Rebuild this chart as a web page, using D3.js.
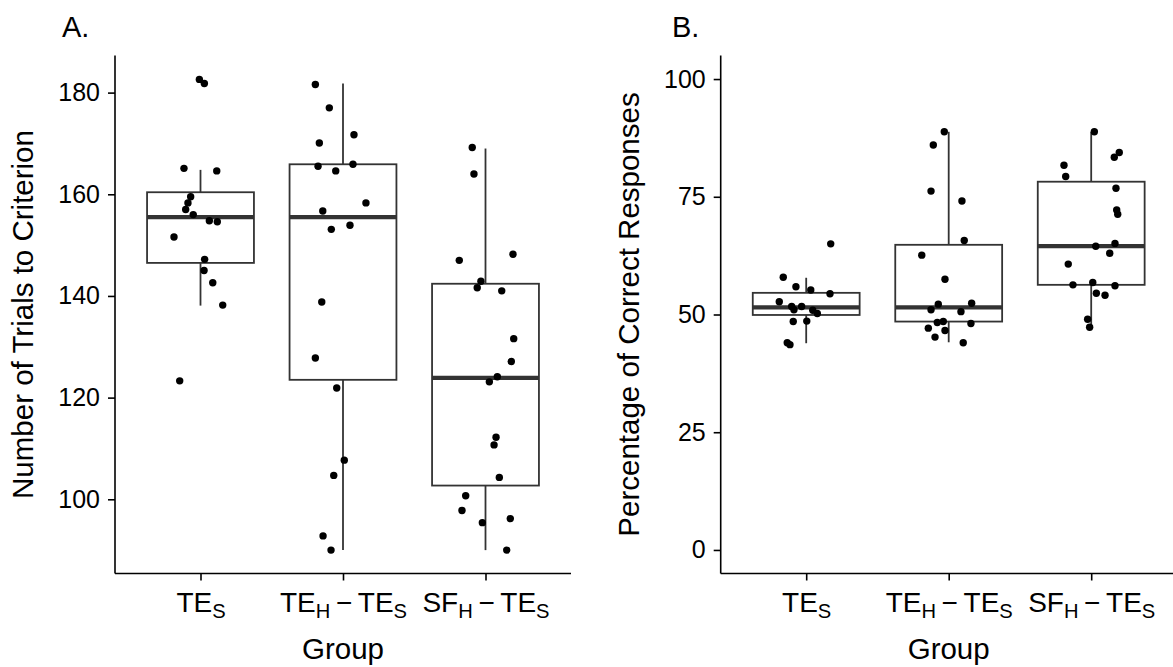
<!DOCTYPE html>
<html>
<head>
<meta charset="utf-8">
<script src="https://cdn.jsdelivr.net/npm/d3@7"></script>
<style>
  html, body { margin: 0; padding: 0; background: #fff; }
  svg { display: block; }
  text { font-family: "Liberation Sans", Arial, Helvetica, sans-serif; fill: #000; }
</style>
</head>
<body>
<svg id="chart" width="1173" height="667"></svg>
<script>
// ---------------- DATA ----------------
const groups = ["TES", "TEH-TES", "SFH-TES"];
// label parts: [main, subscript] pieces joined by a minus sign
const groupLabels = [
  [["TE", "S"]],
  [["TE", "H"], ["TE", "S"]],
  [["SF", "H"], ["TE", "S"]]
];

const ticksA = [100, 120, 140, 160, 180];
const ticksB = [0, 25, 50, 75, 100];

// Panel A: number of trials to criterion. Each point: [jitter (fraction of category step), value]
const trialsTES = [[-0.008,182.6],[0.027,181.8],[-0.116,165.1],[0.114,164.6],[-0.069,159.5],[-0.088,158.3],[-0.104,157.0],[-0.051,156.0],[0.062,154.8],[0.118,154.6],[-0.186,151.6],[0.029,147.2],[0.025,145.0],[0.086,142.6],[0.156,138.2],[-0.146,123.3]];
const trialsTEH = [[-0.194,181.6],[-0.096,177.0],[0.077,171.7],[-0.166,170.1],[-0.175,165.5],[-0.051,164.6],[0.070,165.9],[0.161,158.3],[-0.142,156.7],[-0.082,153.1],[0.049,153.9],[-0.149,138.8],[-0.194,127.8],[-0.044,121.9],[0.009,107.7],[-0.065,104.7],[-0.140,92.8],[-0.084,90.0]];
const trialsSFH = [[-0.093,169.2],[-0.081,164.0],[-0.184,147.0],[0.193,148.2],[-0.032,142.9],[-0.058,141.6],[0.114,141.0],[0.198,131.6],[0.181,127.1],[0.083,124.1],[0.027,123.1],[0.074,112.2],[0.060,110.7],[0.097,104.3],[-0.139,100.7],[-0.165,97.8],[-0.022,95.4],[0.174,96.2],[0.149,90.0]];

// Panel B: percentage of correct responses
const pctTES = [[-0.161,57.9],[-0.072,55.9],[0.032,55.2],[0.167,54.4],[-0.189,52.7],[-0.102,51.7],[-0.032,51.7],[-0.086,51.0],[0.046,50.9],[0.078,50.2],[-0.091,48.5],[0.004,48.6],[-0.133,44.0],[-0.114,43.6],[0.172,65.0]];
const pctTEH = [[-0.031,88.8],[-0.108,86.0],[-0.124,76.2],[0.093,74.1],[0.109,65.7],[-0.189,62.6],[-0.026,57.5],[-0.073,52.2],[0.161,52.4],[-0.124,51.0],[0.086,50.6],[-0.080,48.3],[-0.038,48.5],[0.156,48.1],[-0.143,47.1],[-0.026,46.6],[-0.096,45.2],[0.102,44.0]];
const pctSFH = [[0.022,88.8],[0.197,84.4],[0.162,83.4],[-0.191,81.7],[-0.179,79.3],[0.174,76.8],[0.179,72.2],[0.186,71.3],[0.032,64.5],[0.167,65.1],[0.130,63.0],[-0.161,60.7],[-0.128,56.3],[0.011,56.8],[0.167,56.1],[0.036,54.5],[0.097,54.1],[-0.025,49.0],[-0.011,47.3]];

// Box statistics [lower whisker, Q1, median, Q3, upper whisker]
const boxA = [[138.1,146.5,155.5,160.4,164.8],[90.0,123.5,155.5,165.9,181.8],[90.0,102.7,123.9,142.4,169.0]];
const boxB = [[43.9,49.9,51.5,54.6,57.8],[44.1,48.5,51.5,64.8,88.8],[47.3,56.3,64.5,78.2,88.8]];

// ---------------- DRAWING ----------------
const svg = d3.select("#chart");
const plotTop = 55.5, plotBottom = 573.5;
const YTICK_FONT = 25, XTICK_FONT = 28, TITLE_FONT = 29.5, TAG_FONT = 29;
const SUB = 6;
const boxColor = "#333333";
const FONT = '"Liberation Sans", Arial, sans-serif';

function panel(opts) {
  const g = svg.append("g");
  const x = d3.scalePoint().domain(groups).range([opts.left, opts.right]).padding(0.6);
  const step = x.step();
  const y = d3.scaleLinear().domain(opts.domain).range([plotBottom, plotTop]);

  // boxes
  opts.boxes.forEach((b, i) => {
    const cx = x(groups[i]);
    const w = step * 0.75;
    const bg = g.append("g");
    bg.append("line").attr("x1", cx).attr("x2", cx).attr("y1", y(b[3])).attr("y2", y(b[4]))
      .attr("stroke", boxColor).attr("stroke-width", 1.8);
    bg.append("line").attr("x1", cx).attr("x2", cx).attr("y1", y(b[1])).attr("y2", y(b[0]))
      .attr("stroke", boxColor).attr("stroke-width", 1.8);
    bg.append("rect").attr("x", cx - w / 2).attr("width", w)
      .attr("y", y(b[3])).attr("height", y(b[1]) - y(b[3]))
      .attr("fill", "#fff").attr("stroke", boxColor).attr("stroke-width", 1.8);
    bg.append("line").attr("x1", cx - w / 2).attr("x2", cx + w / 2).attr("y1", y(b[2])).attr("y2", y(b[2]))
      .attr("stroke", boxColor).attr("stroke-width", 4.2);
  });

  // points
  opts.points.forEach((pts, i) => {
    g.append("g").selectAll("circle").data(pts).join("circle")
      .attr("cx", d => x(groups[i]) + d[0] * step)
      .attr("cy", d => y(d[1]))
      .attr("r", 3.7)
      .attr("fill", "#000");
  });

  // y axis
  const ya = g.append("g").attr("transform", `translate(${opts.left},0)`)
    .call(d3.axisLeft(y).tickValues(opts.ticks).tickSize(7).tickPadding(8).tickSizeOuter(0));
  ya.select(".domain").attr("stroke", "#000").attr("stroke-width", 1.6).attr("d", `M0,${plotTop}V${plotBottom}`);
  ya.selectAll(".tick line").attr("stroke", "#000").attr("stroke-width", 1.6);
  ya.selectAll(".tick text").attr("font-size", YTICK_FONT).attr("fill", "#000").attr("font-family", FONT);

  // x axis
  const xa = g.append("g").attr("transform", `translate(0,${plotBottom})`)
    .call(d3.axisBottom(x).tickSize(7).tickSizeOuter(0).tickFormat(""));
  xa.select(".domain").attr("stroke", "#000").attr("stroke-width", 1.6).attr("d", `M${opts.left},0H${opts.axisRight}`);
  xa.selectAll(".tick line").attr("stroke", "#000").attr("stroke-width", 1.6);
  xa.selectAll(".tick text").remove();
  xa.selectAll(".tick").each(function(d, i) {
    const t = d3.select(this).append("text")
      .attr("y", 38).attr("text-anchor", "middle")
      .attr("font-size", XTICK_FONT)
      .attr("font-family", FONT);
    const parts = groupLabels[i];
    parts.forEach((p, k) => {
      if (k > 0) t.append("tspan").attr("dy", -SUB).text("\u2009\u2212\u2009");
      t.append("tspan").text(p[0]);
      t.append("tspan").attr("font-size", XTICK_FONT * 0.72).attr("dy", SUB).text(p[1]);
    });
  });

  // axis titles
  g.append("text").attr("x", (opts.left + opts.right) / 2).attr("y", 659)
    .attr("text-anchor", "middle").attr("font-size", TITLE_FONT).text("Group");
  g.append("text")
    .attr("transform", `translate(${opts.titleX},${(plotTop + plotBottom) / 2}) rotate(-90)`)
    .attr("text-anchor", "middle").attr("font-size", TITLE_FONT).text(opts.yTitle);

  // panel tag
  g.append("text").attr("x", opts.tagX).attr("y", 37).attr("font-size", TAG_FONT).text(opts.tag);
}

panel({
  left: 115, right: 571, axisRight: 571,
  domain: [85.4, 187.3],
  ticks: ticksA,
  boxes: boxA,
  points: [trialsTES, trialsTEH, trialsSFH],
  yTitle: "Number of Trials to Criterion",
  titleX: 33, tag: "A.", tagX: 62
});

panel({
  left: 720.7, right: 1176.7, axisRight: 1173,
  domain: [-5, 105],
  ticks: ticksB,
  boxes: boxB,
  points: [pctTES, pctTEH, pctSFH],
  yTitle: "Percentage of Correct Responses",
  titleX: 639, tag: "B.", tagX: 672
});
</script>
</body>
</html>
